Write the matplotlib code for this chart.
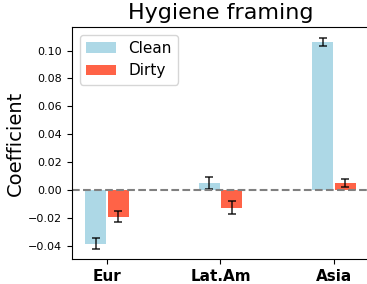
import numpy as np
import matplotlib
matplotlib.use("Agg")
import matplotlib.pyplot as plt

regions = ['Eur', 'Lat.Am', 'Asia']
clean = [-0.0388, 0.005, 0.1063]
clean_err = [0.004, 0.0045, 0.0029]
dirty = [-0.0194, -0.0128, 0.005]
dirty_err = [0.004, 0.0045, 0.003]

x_pos = np.arange(len(regions))
bar_width = 0.185
offset = 0.1

fig = plt.figure(figsize=(3.67, 2.84), dpi=100)
ax = fig.add_axes([72 / 367, 25 / 284, 297 / 367, 232 / 284])

ax.bar(x_pos - offset, clean, width=bar_width, color='lightblue', label='Clean',
       yerr=clean_err, capsize=3, error_kw=dict(ecolor='black', elinewidth=1.2, capthick=1.2, alpha=0.8))
ax.bar(x_pos + offset, dirty, width=bar_width, color='tomato', label='Dirty',
       yerr=dirty_err, capsize=3, error_kw=dict(ecolor='black', elinewidth=1.2, capthick=1.2, alpha=0.8))

ax.axhline(0, color='gray', linestyle='--', linewidth=1.5)

ax.set_xlim(-0.31, 2.31)
ax.set_ylim(-0.0497, 0.117)
ax.set_xticks(x_pos)
ax.set_xticklabels(regions, fontsize=11, fontweight='bold')
ax.tick_params(axis='y', labelsize=8)
ax.set_ylabel('Coefficient', fontsize=14, labelpad=2)
ax.set_title('Hygiene framing', fontsize=16)
ax.legend(loc='upper left', fontsize=11)
ax.spines['right'].set_visible(False)

fig.savefig('out.png', dpi=100)
